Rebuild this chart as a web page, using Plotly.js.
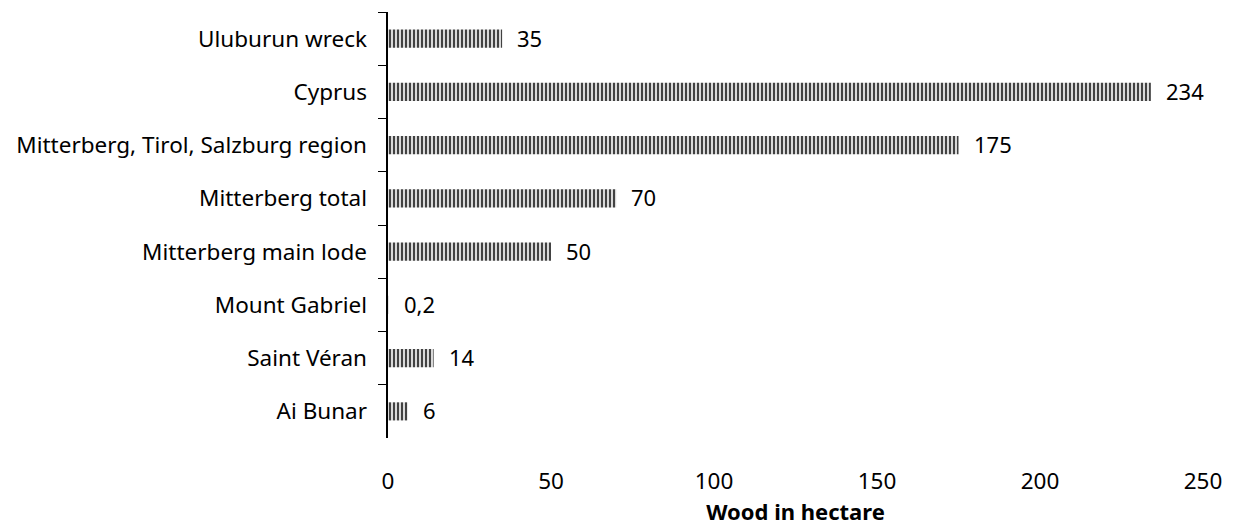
<!DOCTYPE html>
<html><head><meta charset="utf-8">
<script src="https://cdn.plot.ly/plotly-3.0.1.min.js"></script>
<style>body{margin:0;background:#fff}#c{width:1236px;height:526px}</style>
</head><body><div id="c"></div>
<script>
const categories = ["Uluburun wreck","Cyprus","Mitterberg, Tirol, Salzburg region","Mitterberg total","Mitterberg main lode","Mount Gabriel","Saint Véran","Ai Bunar"];
const values = [35, 234, 175, 70, 50, 0.2, 14, 6];
const valueLabels = ["35","234","175","70","50","0,2","14","6"];
const xTicks = [0, 50, 100, 150, 200, 250];

const font = "Noto Sans, Open Sans, sans-serif";
const trace = {
  type: "bar", orientation: "h", x: values, y: categories,
  width: 0.34,
  marker: {color: "#d9d9d9", line: {width: 0},
    pattern: {shape: "|", fgcolor: "#000", bgcolor: "#d9d9d9", size: 4, solidity: 0.35}},
  hoverinfo: "skip"
};
const annotations = values.map((v, i) => ({
  x: v, y: categories[i], xref: "x", yref: "y", text: valueLabels[i],
  showarrow: false, xanchor: "left", xshift: 13, yshift: 1, font: {family: font, size: 22, color: "#000"}
}));
Plotly.newPlot("c", [trace], {
  width: 1236, height: 526,
  margin: {l: 388, r: 33, t: 12, b: 88},
  paper_bgcolor: "#fff", plot_bgcolor: "#fff",
  showlegend: false,
  font: {family: font, size: 22.5, color: "#000"},
  xaxis: {range: [0, 250], tickvals: xTicks, ticktext: xTicks.map(String), showgrid: false, zeroline: false,
    showline: false, ticks: "", ticklabelstandoff: 27, automargin: false,
    title: {text: "<b>Wood in hectare</b>", font: {family: font, size: 22}}},
  yaxis: {type: "category", autorange: "reversed", showgrid: false, zeroline: false, automargin: false,
    showline: true, linecolor: "#000", linewidth: 2.5, ticks: "outside", tickson: "boundaries",
    ticklen: 8, tickcolor: "#000", tickwidth: 1, ticklabelstandoff: 14},
  annotations: annotations
}, {displayModeBar: false, staticPlot: true});
</script></body></html>
